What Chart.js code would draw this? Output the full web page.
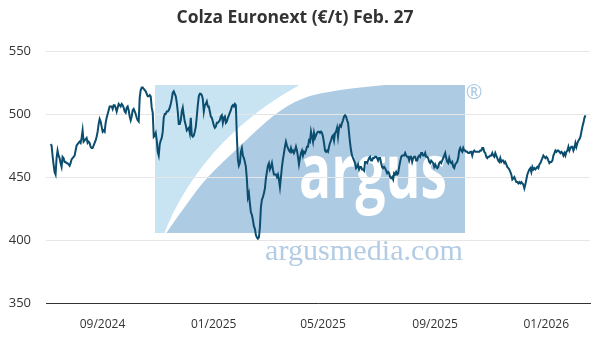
<!DOCTYPE html>
<html>
<head>
<meta charset="utf-8">
<script src="https://cdn.jsdelivr.net/npm/chart.js@4"></script>
<style>
  html, body { margin: 0; background: #fff; }
  #wrap { width: 600px; height: 350px; }
</style>
</head>
<body>
<div id="wrap"><canvas id="chart"></canvas></div>
<script>
// Colza (rapeseed) Euronext front month, EUR/t
const prices = [
  476, 475, 467, 460, 454, 452, 465, 471, 467, 465,
  461, 458, 466, 465, 462, 462, 461, 461, 460, 459,
  461, 464, 465, 466, 467, 471, 475, 476, 477, 478,
  477, 481, 487, 478, 479, 480, 481, 477, 478, 477,
  474, 473, 473, 475, 477, 479, 482, 486, 492, 496,
  494, 490, 486, 487, 486, 493, 497, 500, 503, 506,
  506, 506, 504, 507, 507, 505, 502, 505, 508, 507,
  506, 508, 507, 505, 502, 501, 505, 506, 503, 498,
  495, 498, 503, 504, 502, 500, 497, 495, 494, 513,
  519, 521, 521, 520, 519, 518, 516, 514, 514, 515,
  514, 505, 501, 482, 483, 485, 479, 470, 467, 476,
  479, 481, 486, 497, 500, 500, 502, 502, 503, 505,
  508, 512, 517, 518, 516, 514, 509, 502, 492, 492,
  495, 502, 505, 499, 494, 491, 487, 488, 489, 485,
  497, 483, 482, 483, 486, 490, 498, 507, 514, 516,
  516, 515, 512, 502, 507, 508, 510, 506, 506, 502,
  498, 497, 494, 491, 489, 490, 493, 493, 494, 495,
  498, 499, 493, 497, 498, 493, 494, 497, 499, 501,
  503, 506, 507, 506, 508, 507, 482, 464, 459, 461,
  470, 473, 467, 465, 462, 458, 448, 434, 437, 429,
  422, 420, 416, 411, 409, 404, 402, 401, 402, 410,
  426, 432, 434, 437, 441, 449, 454, 459, 461, 456,
  458, 461, 456, 452, 452, 452, 450, 452, 448, 442,
  450, 458, 464, 469, 474, 478, 475, 473, 471, 470,
  473, 470, 471, 469, 471, 474, 471, 466, 460, 465,
  469, 471, 467, 470, 469, 471, 474, 474, 479, 478,
  486, 482, 478, 485, 481, 483, 485, 486, 486, 485,
  486, 485, 482, 477, 471, 470, 471, 470, 474, 477,
  479, 482, 483, 479, 485, 486, 489, 482, 489, 491,
  490, 493, 495, 498, 499, 498, 495, 493, 485, 477,
  471, 467, 465, 463, 461, 457, 458, 460, 456, 458,
  458, 456, 456, 455, 462, 462, 461, 463, 465, 466,
  463, 463, 465, 465, 466, 466, 465, 463, 465, 465,
  461, 458, 457, 458, 457, 455, 453, 454, 453, 450,
  449, 450, 448, 453, 452, 454, 452, 453, 458, 462,
  466, 467, 467, 467, 469, 467, 466, 466, 463, 466,
  466, 462, 465, 466, 466, 463, 463, 466, 467, 466,
  469, 469, 467, 467, 469, 466, 466, 465, 462, 461,
  463, 462, 461, 458, 460, 458, 457, 458, 461, 462,
  461, 463, 465, 467, 469, 465, 462, 461, 465, 462,
  461, 462, 458, 457, 460, 461, 462, 465, 471, 473,
  471, 470, 473, 471, 471, 470, 470, 469, 469, 470,
  470, 467, 470, 471, 470, 470, 470, 470, 470, 471,
  471, 473, 473, 470, 469, 466, 465, 466, 466, 467,
  467, 469, 467, 466, 469, 467, 465, 463, 462, 465,
  462, 463, 463, 461, 462, 460, 458, 457, 456, 454,
  452, 448, 449, 450, 448, 446, 446, 445, 446, 445,
  446, 445, 444, 441, 444, 448, 452, 454, 456, 457,
  454, 458, 456, 457, 456, 457, 458, 457, 460, 461,
  463, 465, 467, 466, 465, 466, 465, 463, 461, 462,
  462, 463, 467, 469, 471, 470, 471, 471, 470, 469,
  470, 469, 467, 469, 467, 470, 471, 474, 471, 473,
  474, 474, 471, 473, 477, 474, 477, 479, 480, 482,
  486, 490, 493, 497, 499
];
const firstDate = '2024-07-20';
const lastDate = '2026-02-27';
const axisStart = '2024-07-15';
const axisEnd = '2026-03-04';
const tickDates = ['2024-09-15', '2025-01-15', '2025-05-15', '2025-09-15', '2026-01-15'];
const tickLabels = ['09/2024', '01/2025', '05/2025', '09/2025', '01/2026'];
const yTicks = [350, 400, 450, 500, 550];

// spread the samples evenly between first and last date
const t0 = Date.parse(firstDate);
const t1 = Date.parse(lastDate);
const step = (t1 - t0) / (prices.length - 1);
const points = prices.map((v, i) => ({ x: t0 + i * step, y: v }));

function fitText(ctx, text, font, color, x, y, width) {
  ctx.save();
  ctx.font = font;
  ctx.fillStyle = color;
  ctx.textBaseline = 'alphabetic';
  const w = ctx.measureText(text).width;
  ctx.translate(x, y);
  ctx.scale(width / w, 1);
  ctx.fillText(text, 0, 0);
  ctx.restore();
}

// smooth curve through a list of points
function smoothPath(ctx, pts) {
  ctx.moveTo(pts[0][0], pts[0][1]);
  for (let i = 1; i < pts.length - 1; i++) {
    const mx = (pts[i][0] + pts[i + 1][0]) / 2;
    const my = (pts[i][1] + pts[i + 1][1]) / 2;
    ctx.quadraticCurveTo(pts[i][0], pts[i][1], mx, my);
  }
  const last = pts[pts.length - 1];
  ctx.lineTo(last[0], last[1]);
}

// argus watermark behind grid and line
const argusLogo = {
  id: 'argusLogo',
  beforeDraw(chart) {
    const { ctx } = chart;
    ctx.save();
    ctx.fillStyle = '#c8e4f3';
    ctx.fillRect(155, 85, 310, 148);
    ctx.beginPath();
    ctx.rect(155, 85, 310, 148);
    ctx.clip();
    ctx.fillStyle = '#fff';
    ctx.beginPath();
    ctx.ellipse(480, 320, 332, 280, 0, 0, Math.PI * 2);
    ctx.fill();
    ctx.fillStyle = '#aecbe4';
    ctx.beginPath();
    smoothPath(ctx, [[162, 240], [166, 233], [189, 201], [206, 178], [240, 146],
      [274, 114], [303, 97], [337, 90], [370, 86.5], [400, 83.5], [480, 78]]);
    ctx.lineTo(480, 240);
    ctx.closePath();
    ctx.fill();
    ctx.restore();

    fitText(ctx, 'argus', '700 76px "Open Sans"', '#fff', 299, 198, 148);
    fitText(ctx, 'argusmedia.com', '29px "Liberation Serif"', '#b3cce3', 265, 260, 198);
    ctx.save();
    ctx.fillStyle = '#aac8e3';
    ctx.font = '20px "Open Sans"';
    ctx.textAlign = 'center';
    ctx.textBaseline = 'middle';
    ctx.fillText('®', 474, 93);
    ctx.restore();
  }
};

new Chart(document.getElementById('chart'), {
  type: 'line',
  data: {
    datasets: [{
      data: points,
      borderColor: '#0b4d6e',
      borderWidth: 2,
      pointRadius: 0,
      tension: 0,
      fill: false,
    }],
  },
  options: {
    responsive: true,
    maintainAspectRatio: false,
    animation: false,
    layout: { padding: { left: 0, right: 10, top: 0, bottom: 0 } },
    plugins: {
      legend: { display: false },
      tooltip: { enabled: false },
      title: {
        display: true,
        text: 'Colza Euronext (€/t) Feb. 27',
        color: '#333',
        font: { family: 'Open Sans', size: 17.5, weight: 'bold' },
        padding: { top: 8, bottom: 22 },
      },
    },
    scales: {
      x: {
        type: 'linear',
        min: Date.parse(axisStart),
        max: Date.parse(axisEnd),
        afterBuildTicks: (s) => { s.ticks = tickDates.map(d => ({ value: Date.parse(d) })); },
        ticks: {
          callback: (v, i) => tickLabels[i],
          color: '#333',
          font: { family: 'Open Sans', size: 12 },
          padding: 14,
          maxRotation: 0,
          autoSkip: false,
        },
        grid: { display: false, drawTicks: false },
        border: { display: true, color: '#333', width: 1 },
        afterFit: (s) => { s.height = 47; },
      },
      y: {
        min: 350,
        max: 550,
        afterBuildTicks: (s) => { s.ticks = yTicks.map(v => ({ value: v })); },
        ticks: {
          color: '#333',
          font: { family: 'Open Sans', size: 13 },
          padding: 15,
        },
        grid: { color: '#e6e6e6', drawTicks: false },
        border: { display: false },
        afterFit: (s) => { s.width = 46; },
      },
    },
  },
  plugins: [argusLogo],
});
</script>
</body>
</html>
